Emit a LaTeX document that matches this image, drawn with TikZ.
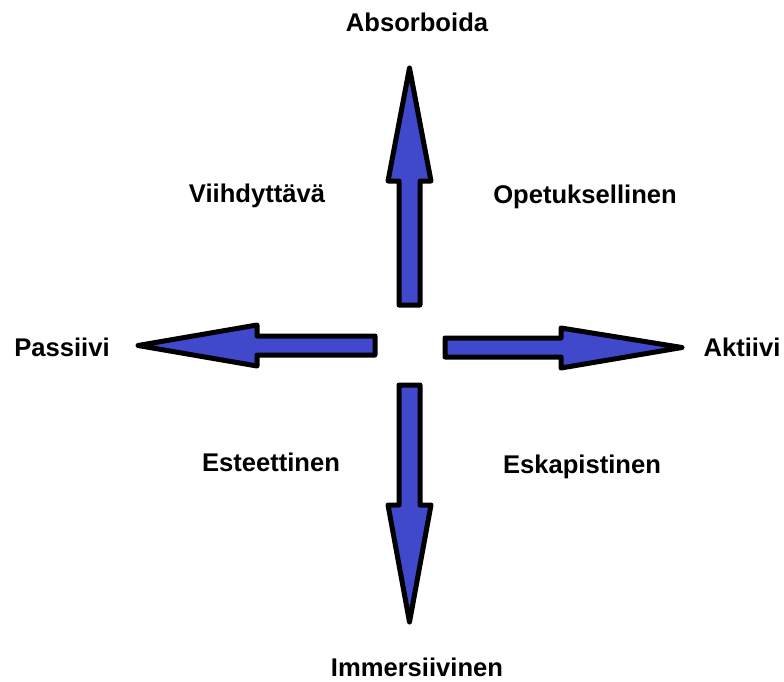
\documentclass[tikz,border=0pt]{standalone}
\usepackage{fontspec}
\setmainfont{Liberation Sans}
\definecolor{arrowblue}{RGB}{64,72,204}
\tikzset{
  bigarrow/.style={draw=black,fill=arrowblue,line width=5pt,line join=round},
  lbl/.style={font=\fontsize{25.6}{30}\selectfont\bfseries,inner sep=0pt}
}
\begin{document}
\begin{tikzpicture}[x=1pt,y=-1pt]
  \useasboundingbox (0,0) rectangle (784,682);

  % The four arrows
  \draw[bigarrow] (409.5,68) -- (431,181) -- (420,181) -- (420,305) -- (399,305) -- (399,181) -- (388,181) -- cycle;
  \draw[bigarrow] (409.5,622) -- (431,505) -- (420,505) -- (420,385) -- (399,385) -- (399,505) -- (388,505) -- cycle;
  \draw[bigarrow] (138,345.5) -- (257,325) -- (257,336) -- (375,336) -- (375,355) -- (257,355) -- (257,366) -- cycle;
  \draw[bigarrow] (682,347.5) -- (561,328) -- (561,338) -- (445,338) -- (445,357) -- (561,357) -- (561,368) -- cycle;

  % Axis ends
  \node[lbl] (absorb) at (417,22) {Absorboida};
  \node[lbl] (immers) at (417,667) {Immersiivinen};
  \node[lbl] (passiv) at (62,347) {Passiivi};
  \node[lbl] (aktiiv) at (742,347) {Aktiivi};

  % Quadrants
  \node[lbl] (viihd) at (257,196) {Viihdyttävä};
  \node[lbl] (opetus) at (585,197) {Opetuksellinen};
  \node[lbl] (esteet) at (271,462) {Esteettinen};
  \node[lbl] (eskap) at (582,467) {Eskapistinen};
\end{tikzpicture}
\end{document}
